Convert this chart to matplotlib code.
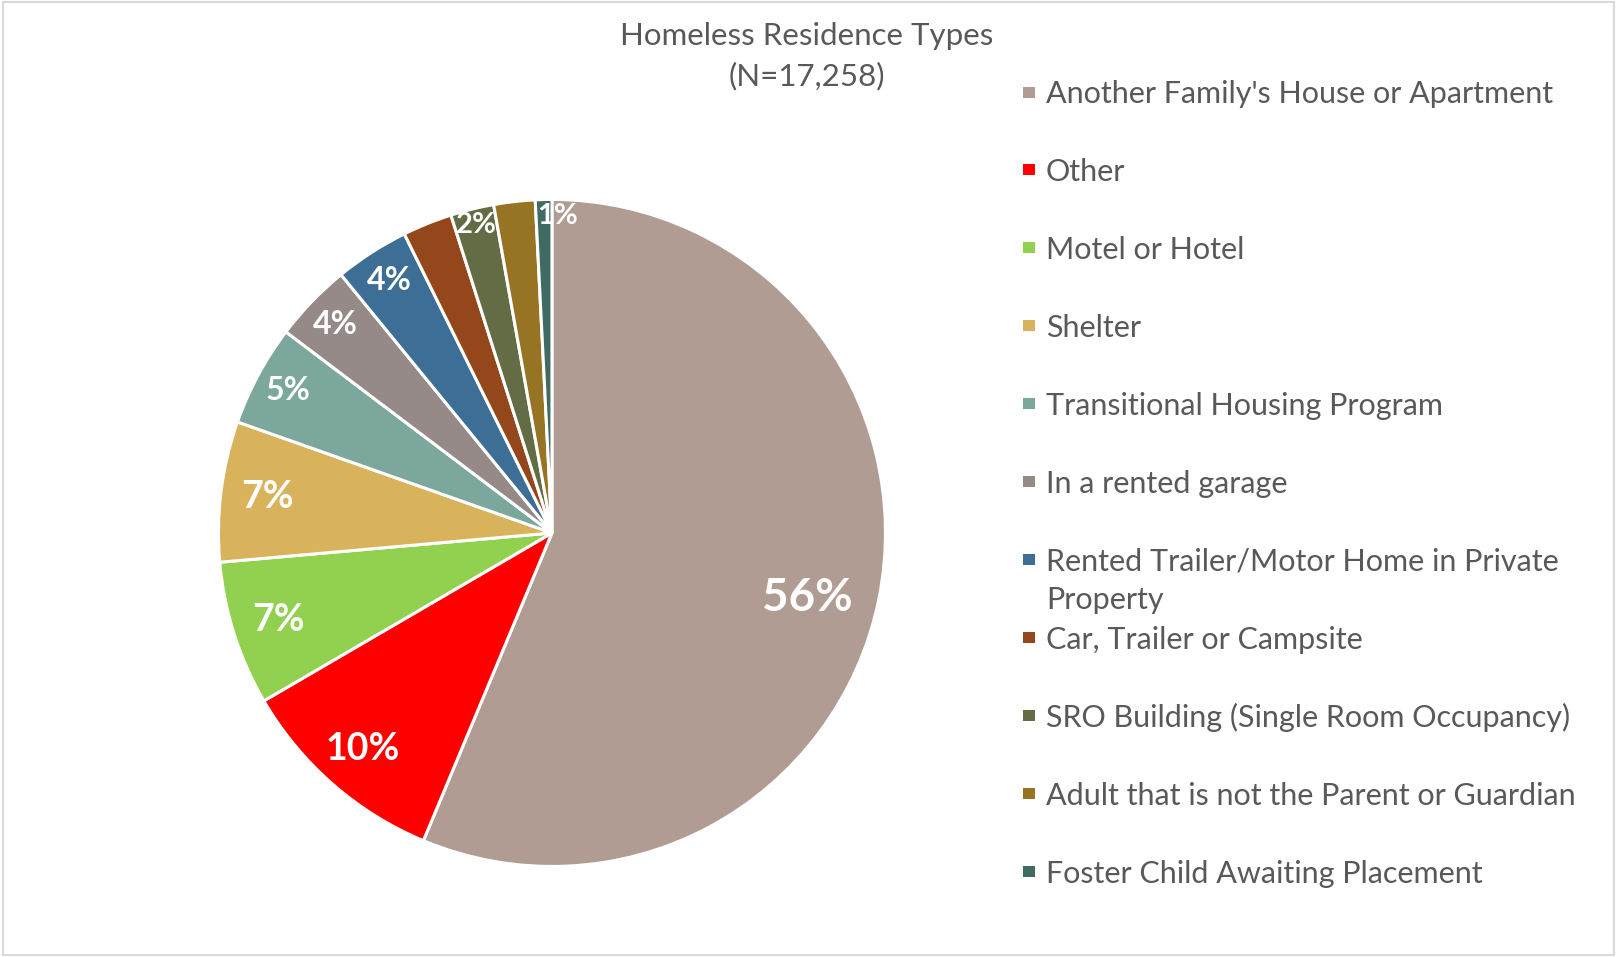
import matplotlib.pyplot as plt
from matplotlib.patches import Rectangle
import numpy as np

# Data (percent of N=17,258)
categories = [
    "Another Family's House or Apartment",
    "Other",
    "Motel or Hotel",
    "Shelter",
    "Transitional Housing Program",
    "In a rented garage",
    "Rented Trailer/Motor Home in Private\nProperty",
    "Car, Trailer or Campsite",
    "SRO Building (Single Room Occupancy)",
    "Adult that is not the Parent or Guardian",
    "Foster Child Awaiting Placement",
]
shares = [56.3, 10.3, 7.0, 6.8, 4.9, 3.8, 3.6, 2.4, 2.1, 2.0, 0.8]
colors = ['#B09C93', '#FF0000', '#92D050', '#D9B25C', '#7BA79D', '#968A88',
          '#3D6E96', '#93471A', '#636C44', '#967423', '#3F6B63']
# Excel hides labels that collide; these are the ones shown
show_label = [True, True, True, True, True, True, True, False, True, False, True]

plt.rcParams['font.family'] = ['Lato', 'DejaVu Sans']

fig = plt.figure(figsize=(16.17, 9.57), dpi=100)
fig.patches.append(Rectangle((0.002, 0.002), 0.996, 0.996, transform=fig.transFigure,
                             fill=False, edgecolor='#d9d9d9', linewidth=1.5))

ax = fig.add_axes([0.1351, 0.0946, 0.4125, 0.697])
wedges, _ = ax.pie(shares, colors=colors, startangle=90, counterclock=False,
                   wedgeprops=dict(edgecolor='white', linewidth=2.2))
ax.set_xlim(-1, 1)
ax.set_ylim(-1, 1)
ax.set_aspect('equal')
ax.axis('off')

# percentage labels inside the slices
for w, v, show in zip(wedges, shares, show_label):
    if not show:
        continue
    mid = np.deg2rad((w.theta1 + w.theta2) / 2)
    if v > 30:
        r, size = 0.79, 33
        mid -= np.deg2rad(3)
    elif v > 6:
        r, size = 0.86, 27
    elif v > 3:
        r, size = 0.9, 23
    else:
        r, size = 0.95, 21
    x, y = r * np.cos(mid), r * np.sin(mid)
    if v < 1:
        x += 0.04
    ax.text(x, y, f'{v:.0f}%', ha='center', va='center', color='white',
            fontsize=size, fontweight='bold')

fig.text(0.499, 0.962, 'Homeless Residence Types', ha='center', va='center',
         fontsize=22.5, color='#595959')
fig.text(0.499, 0.921, '(N=17,258)', ha='center', va='center',
         fontsize=22.5, color='#595959')

# legend drawn entry by entry so the wrapped label keeps Excel's spacing
W, H = fig.get_size_inches() * fig.dpi
for i, (lab, col) in enumerate(zip(categories, colors)):
    yc = 92 + i * 77.9
    fig.patches.append(Rectangle(((1029 - 5.5) / W, 1 - (yc + 5.5) / H), 11 / W, 11 / H,
                                 transform=fig.transFigure, facecolor=col, edgecolor='none'))
    for k, line in enumerate(lab.split('\n')):
        fig.text(1046 / W, 1 - (yc + k * 38) / H, line, ha='left', va='center_baseline',
                 fontsize=22, color='#595959')

fig.savefig('out.png', dpi=100)
